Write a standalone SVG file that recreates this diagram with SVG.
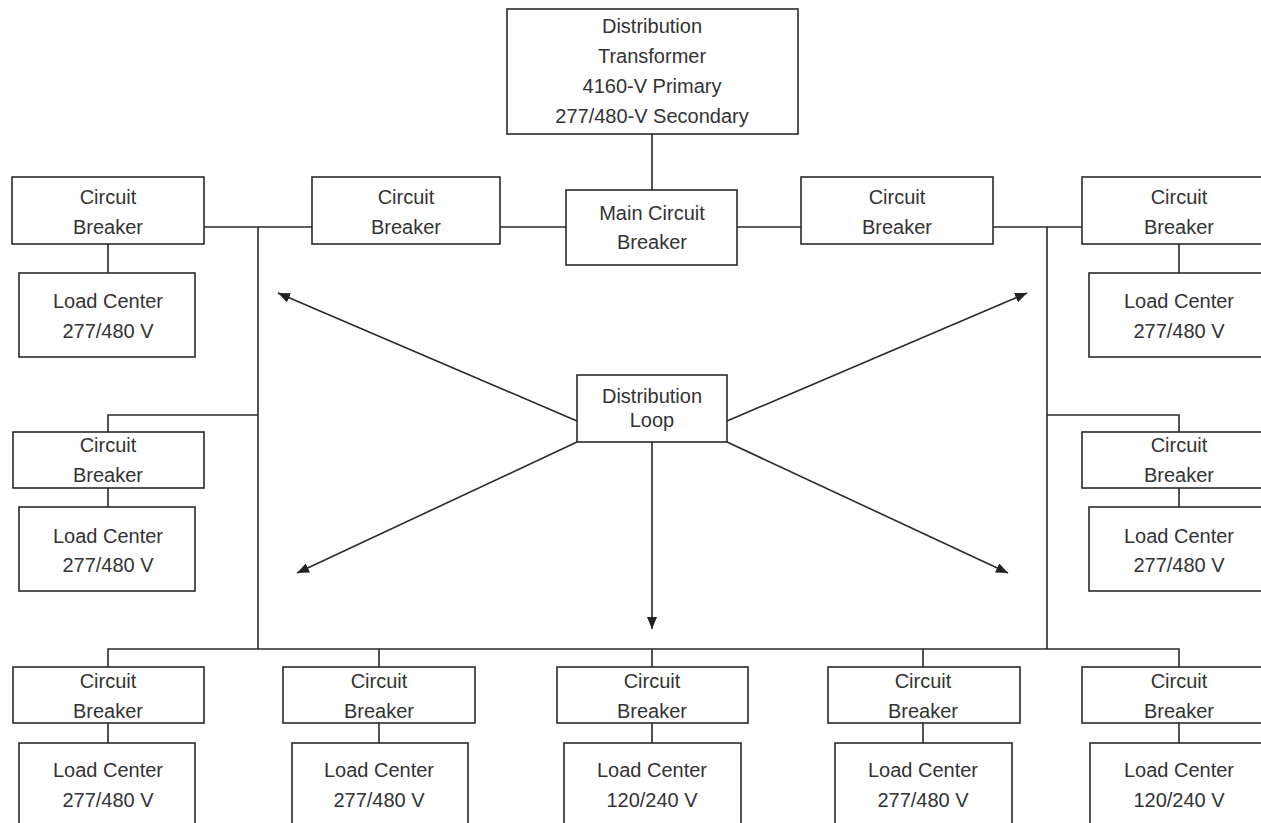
<svg xmlns="http://www.w3.org/2000/svg" width="1261" height="823" viewBox="0 0 1261 823">
<style>
.b{fill:#fff;stroke:#2a2a2a;stroke-width:1.6}
.t{font-family:"Liberation Sans",Arial,sans-serif;font-size:20px;fill:#333;text-anchor:middle}
.c{fill:none;stroke:#2a2a2a;stroke-width:1.6}
</style>
<defs>
<marker id="ah" viewBox="0 0 12 10" refX="12" refY="5" markerWidth="12" markerHeight="10" markerUnits="userSpaceOnUse" orient="auto">
<path d="M0,0 L12,5 L0,10 Z" fill="#222"/>
</marker>
</defs>
<rect width="1261" height="823" fill="#fff"/>
<g id="connectors">
<path class="c" d="M652,134 V190"/>
<path class="c" d="M500,227 H566 M737,227 H801"/>
<path class="c" d="M204,227 H312 M258,227 V649"/>
<path class="c" d="M993,227 H1082 M1047,227 V649"/>
<path class="c" d="M108,244 V273 M1179,244 V273"/>
<path class="c" d="M258,415 H108 V432 M108,488 V507"/>
<path class="c" d="M1047,415 H1179 V432 M1179,488 V507"/>
<path class="c" d="M108,667 V649 H1179 V667 M379,649 V667 M652,649 V667 M923,649 V667"/>
<path class="c" d="M108,723 V743 M379,723 V743 M652,723 V743 M923,723 V743 M1179,723 V743"/>
<path class="c" d="M577,421 L278,293" marker-end="url(#ah)"/>
<path class="c" d="M577,442 L297,573" marker-end="url(#ah)"/>
<path class="c" d="M727,421 L1027,293" marker-end="url(#ah)"/>
<path class="c" d="M727,442 L1008,573" marker-end="url(#ah)"/>
<path class="c" d="M652,442 V629" marker-end="url(#ah)"/>
</g>
<g id="transformer"><rect class="b" x="507" y="9" width="291" height="125"/>
<text class="t" x="652" y="33">Distribution</text><text class="t" x="652" y="63">Transformer</text><text class="t" x="652" y="93">4160-V Primary</text><text class="t" x="652" y="123">277/480-V Secondary</text></g>
<g id="main-cb"><rect class="b" x="566" y="190" width="171" height="75"/>
<text class="t" x="652" y="220">Main Circuit</text><text class="t" x="652" y="249">Breaker</text></g>
<g id="cb-tl"><rect class="b" x="12" y="177" width="192" height="67"/><text class="t" x="108" y="204">Circuit</text><text class="t" x="108" y="234">Breaker</text></g>
<g id="cb-tl2"><rect class="b" x="312" y="177" width="188" height="67"/><text class="t" x="406" y="204">Circuit</text><text class="t" x="406" y="234">Breaker</text></g>
<g id="cb-tr2"><rect class="b" x="801" y="177" width="192" height="67"/><text class="t" x="897" y="204">Circuit</text><text class="t" x="897" y="234">Breaker</text></g>
<g id="cb-tr"><rect class="b" x="1082" y="177" width="194" height="67"/><text class="t" x="1179" y="204">Circuit</text><text class="t" x="1179" y="234">Breaker</text></g>
<g id="lc-tl"><rect class="b" x="19" y="273" width="176" height="84"/><text class="t" x="108" y="308">Load Center</text><text class="t" x="108" y="338">277/480 V</text></g>
<g id="lc-tr"><rect class="b" x="1089" y="273" width="180" height="84"/><text class="t" x="1179" y="308">Load Center</text><text class="t" x="1179" y="338">277/480 V</text></g>
<g id="loop"><rect class="b" x="577" y="375" width="150" height="67"/><text class="t" x="652" y="403">Distribution</text><text class="t" x="652" y="427">Loop</text></g>
<g id="cb-ml"><rect class="b" x="13" y="432" width="191" height="56"/><text class="t" x="108" y="452">Circuit</text><text class="t" x="108" y="482">Breaker</text></g>
<g id="cb-mr"><rect class="b" x="1082" y="432" width="194" height="56"/><text class="t" x="1179" y="452">Circuit</text><text class="t" x="1179" y="482">Breaker</text></g>
<g id="lc-ml"><rect class="b" x="19" y="507" width="176" height="84"/><text class="t" x="108" y="543">Load Center</text><text class="t" x="108" y="572">277/480 V</text></g>
<g id="lc-mr"><rect class="b" x="1089" y="507" width="180" height="84"/><text class="t" x="1179" y="543">Load Center</text><text class="t" x="1179" y="572">277/480 V</text></g>
<g id="cb-b1"><rect class="b" x="13" y="667" width="191" height="56"/><text class="t" x="108" y="688">Circuit</text><text class="t" x="108" y="718">Breaker</text></g>
<g id="cb-b2"><rect class="b" x="283" y="667" width="192" height="56"/><text class="t" x="379" y="688">Circuit</text><text class="t" x="379" y="718">Breaker</text></g>
<g id="cb-b3"><rect class="b" x="557" y="667" width="191" height="56"/><text class="t" x="652" y="688">Circuit</text><text class="t" x="652" y="718">Breaker</text></g>
<g id="cb-b4"><rect class="b" x="828" y="667" width="192" height="56"/><text class="t" x="923" y="688">Circuit</text><text class="t" x="923" y="718">Breaker</text></g>
<g id="cb-b5"><rect class="b" x="1082" y="667" width="194" height="56"/><text class="t" x="1179" y="688">Circuit</text><text class="t" x="1179" y="718">Breaker</text></g>
<g id="lc-b1"><rect class="b" x="19" y="743" width="176" height="100"/><text class="t" x="108" y="777">Load Center</text><text class="t" x="108" y="807">277/480 V</text></g>
<g id="lc-b2"><rect class="b" x="292" y="743" width="176" height="100"/><text class="t" x="379" y="777">Load Center</text><text class="t" x="379" y="807">277/480 V</text></g>
<g id="lc-b3"><rect class="b" x="564" y="743" width="177" height="100"/><text class="t" x="652" y="777">Load Center</text><text class="t" x="652" y="807">120/240 V</text></g>
<g id="lc-b4"><rect class="b" x="835" y="743" width="177" height="100"/><text class="t" x="923" y="777">Load Center</text><text class="t" x="923" y="807">277/480 V</text></g>
<g id="lc-b5"><rect class="b" x="1090" y="743" width="180" height="100"/><text class="t" x="1179" y="777">Load Center</text><text class="t" x="1179" y="807">120/240 V</text></g>
</svg>
